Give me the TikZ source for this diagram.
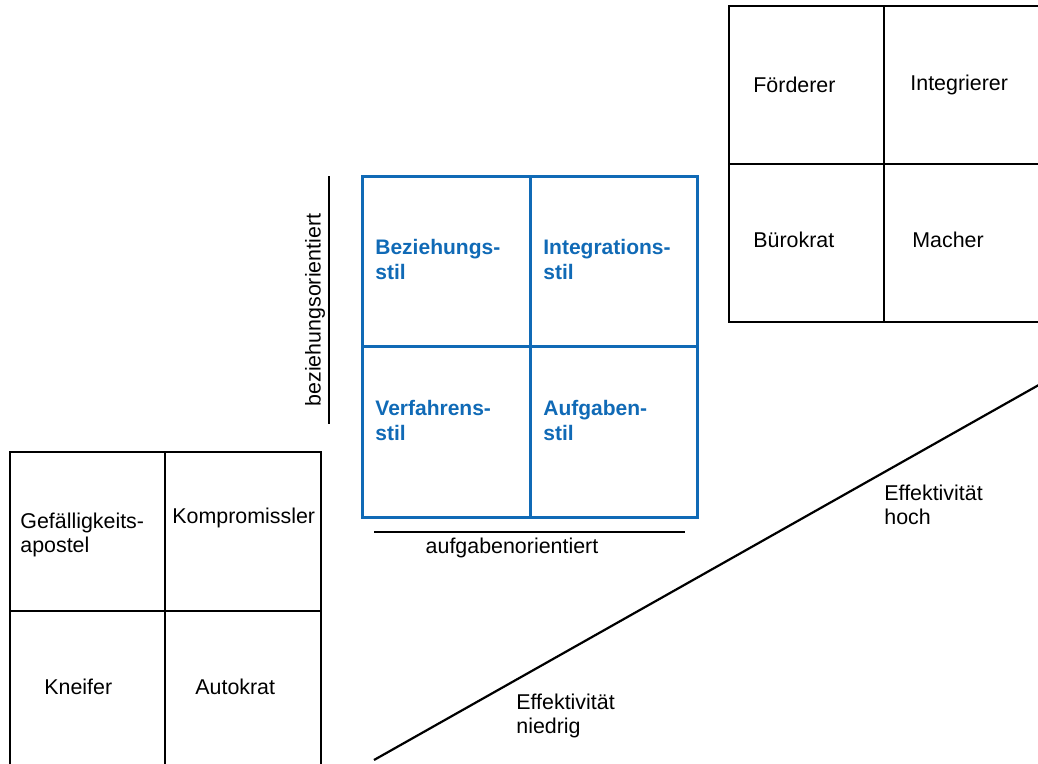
\documentclass[tikz,border=0pt]{standalone}
\usepackage{fontspec}
\setmainfont{Liberation Sans}
\usepackage{tikz}
\usetikzlibrary{positioning}
\definecolor{stilblue}{RGB}{16,106,182}
\tikzset{
    grid/.style = {draw=black, line width=1.1pt},
    stilgrid/.style = {draw=stilblue, line width=1.5pt},
    cell/.style = {
        anchor = west, inner sep = 0pt,
        align = left,
        font = \fontsize{10.7}{12}\selectfont
    },
    stil/.style = {cell, text=stilblue, font = \fontsize{10.5}{12.5}\selectfont\bfseries},
    axis/.style = {line width=1.1pt, line cap=rect}
}

\begin{document}
\begin{tikzpicture}[x=0.5pt, y=-0.5pt]

    \useasboundingbox (0,0) rectangle (1038,764);
    \clip (0,0) rectangle (1038,764);

    % Grid top right
    \draw[grid] (729,6) rectangle (1046,322);
    \draw[grid] (884,6) -- (884,322) (729,164) -- (1046,164);
    \node[cell] (foerderer) at (753,85) {Förderer};
    \node[cell] (integrierer) at (910,85) {Integrierer};
    \node[cell] (buerokrat) at (753,240) {Bürokrat};
    \node[cell] (macher) at (912,240) {Macher};

    % Grid bottom left
    \draw[grid] (10,452) rectangle (321,780);
    \draw[grid] (165,452) -- (165,780) (10,611) -- (321,611);
    \node[cell] (gefaellig) at (20,535) {Gefälligkeits-\\apostel};
    \node[cell] (kompromiss) at (172,518) {Kompromissler};
    \node[cell] (kneifer) at (44,687) {Kneifer};
    \node[cell] (autokrat) at (195,687) {Autokrat};

    % Blue grid in the middle
    \draw[stilgrid] (362,177) rectangle (697,517);
    \draw[stilgrid] (530,177) -- (530,517) (362,347) -- (697,347);
    \node[stil] (beziehung) at (375,259) {Beziehungs-\\stil};
    \node[stil] (integration) at (543,259) {Integrations-\\stil};
    \node[stil] (verfahren) at (375,420) {Verfahrens-\\stil};
    \node[stil] (aufgaben) at (543,420) {Aufgaben-\\stil};

    % Axes
    \coordinate (yax1) at (329,177);
    \coordinate (yax2) at (329,423);
    \draw[axis] (yax1) -- (yax2);
    \node[rotate=90, font=\fontsize{10.7}{12}\selectfont] (yname) at (315,310) {beziehungsorientiert};

    \coordinate (xax1) at (375,532);
    \coordinate (xax2) at (684,532);
    \draw[axis] (xax1) -- (xax2);
    \node[font=\fontsize{10.7}{12}\selectfont] (xname) at (512,548) {aufgabenorientiert};

    % Effectiveness line
    \coordinate (eff1) at (374,760);
    \coordinate (eff2) at (1060,373);
    \draw[line width=1.1pt] (eff1) -- (eff2);
    \node[cell] (effhoch) at (884,505) {Effektivität\\hoch};
    \node[cell] (effniedrig) at (516,716) {Effektivität\\niedrig};

\end{tikzpicture}
\end{document}
